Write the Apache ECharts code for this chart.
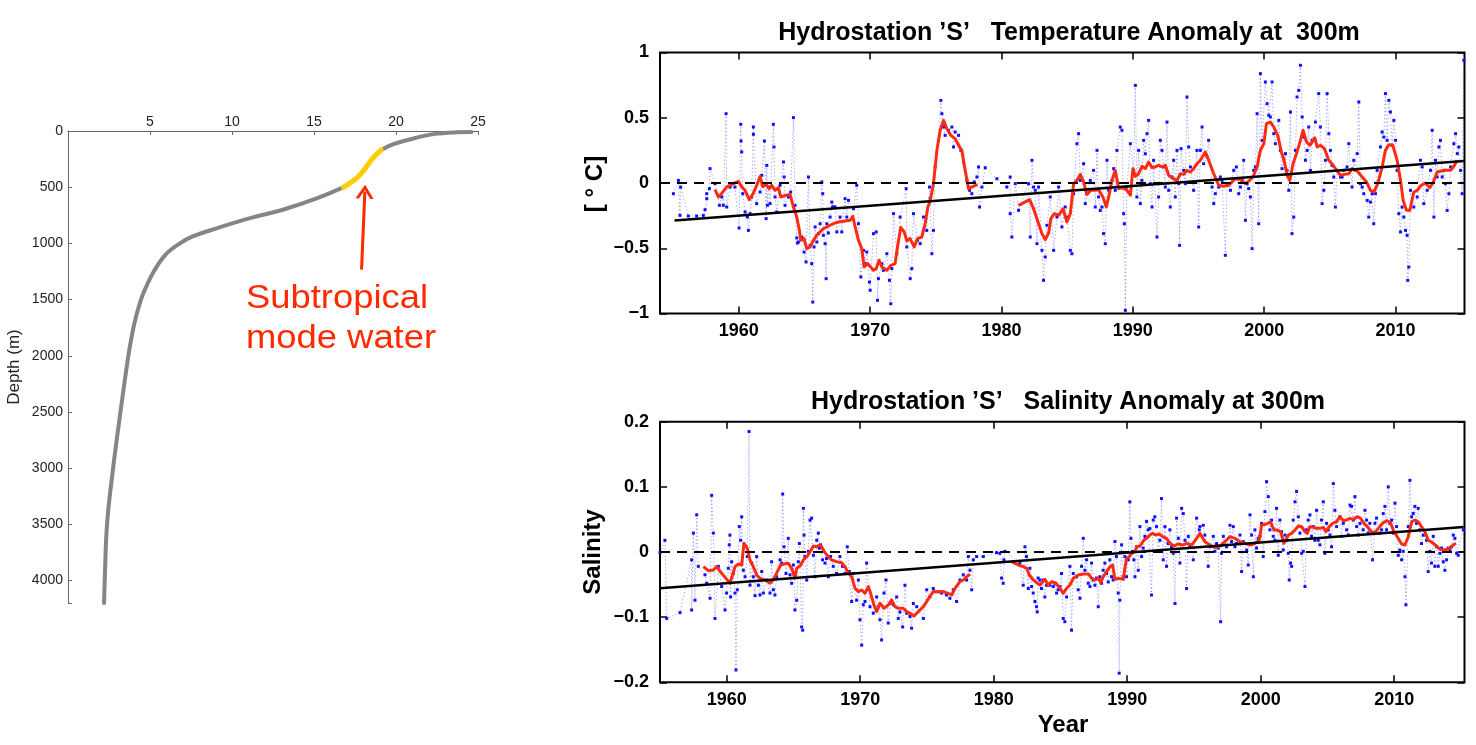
<!DOCTYPE html>
<html>
<head>
<meta charset="utf-8">
<script src="https://cdn.jsdelivr.net/npm/echarts@6/dist/echarts.min.js"></script>
<style>html,body{margin:0;padding:0;background:#fff}#c{width:1476px;height:745px}</style>
</head>
<body>
<div id="c"></div>
<script>
// ---------------- data ----------------
// Temperature profile (temperature degC, depth m)
const profileUpper = [[24.6,10],[23.7,12],[22.3,28],[20.7,80],[19.8,120],[19.1,169]];
const modeWater = [[19.1,169],[18.6,240],[18.2,317],[17.7,405],[16.8,500]];
const profileLower = [[16.8,500],[15.2,598],[13.1,701],[11.1,775],[9.1,864],[7.6,938],[6.82,1000],[5.95,1100],[5.23,1250],[4.72,1400],[4.45,1500],[4.15,1650],[3.92,1800],[3.68,2000],[3.2,2500],[2.75,3000],[2.38,3500],[2.24,4000],[2.2,4200]];
const arrowFrom = [17.9, 1234];
const arrowTo = [18.1, 540];
const profileXTicks = [5,10,15,20,25];

// Time-series ticks
const yearTicks = [1960,1970,1980,1990,2000,2010];

// Temperature anomaly at 300 m (year, degC)
const tempObs = [
[1955.02,-0.082],[1955.40,0.020],[1955.52,-0.248],[1955.57,-0.031],[1956.16,-0.253],[1956.79,-0.253],[1957.30,-0.248],[1957.43,-0.204],[1957.56,-0.120],[1957.56,-0.082],[1957.76,-0.043],[1957.81,0.110],[1958.19,-0.005],[1958.52,-0.171],[1958.70,-0.107],[1958.82,-0.171],[1959.03,0.531],[1959.08,-0.184],[1959.33,-0.031],[1959.71,-0.031],[1960.02,-0.345],[1960.15,0.450],[1960.17,0.322],[1960.22,0.238],[1960.30,-0.082],[1960.48,-0.222],[1960.65,-0.261],[1960.73,-0.363],[1960.86,-0.235],[1960.98,-0.107],[1961.11,0.429],[1961.11,0.373],[1961.36,-0.158],[1961.62,-0.069],[1961.75,0.059],[1961.95,0.322],[1962.08,-0.273],[1962.13,0.135],[1962.18,-0.171],[1962.25,-0.031],[1962.38,-0.158],[1962.63,0.450],[1962.68,0.276],[1962.76,-0.107],[1962.89,-0.222],[1963.14,-0.018],[1963.40,0.161],[1963.45,0.046],[1963.52,-0.171],[1963.78,-0.107],[1963.95,-0.069],[1964.16,0.501],[1964.28,-0.171],[1964.41,-0.421],[1964.46,-0.460],[1964.54,-0.452],[1964.79,-0.414],[1964.97,-0.529],[1965.12,-0.605],[1965.30,0.046],[1965.43,-0.478],[1965.55,-0.618],[1965.63,-0.912],[1965.73,-0.490],[1965.81,-0.337],[1965.94,-0.452],[1966.06,-0.388],[1966.19,-0.312],[1966.32,0.008],[1966.39,-0.082],[1966.44,-0.401],[1966.57,-0.465],[1966.65,-0.733],[1966.70,-0.312],[1966.82,-0.383],[1966.95,-0.261],[1967.08,-0.146],[1967.15,-0.184],[1967.20,-0.184],[1967.33,-0.184],[1967.46,-0.375],[1967.71,-0.261],[1967.84,-0.375],[1968.09,-0.120],[1968.22,-0.261],[1968.35,-0.133],[1968.73,-0.197],[1968.98,-0.018],[1969.11,-0.312],[1969.29,-0.720],[1969.49,-0.516],[1969.62,-0.618],[1969.74,-0.529],[1969.95,-0.759],[1970.00,-0.822],[1970.25,-0.388],[1970.46,-0.375],[1970.56,-0.899],[1970.63,-0.733],[1970.89,-0.618],[1971.01,-0.669],[1971.27,-0.542],[1971.47,-0.746],[1971.57,-0.925],[1971.65,-0.656],[1971.78,-0.235],[1972.03,-0.542],[1972.28,-0.261],[1972.74,-0.043],[1972.79,-0.490],[1973.05,-0.733],[1973.17,-0.656],[1973.30,-0.235],[1973.60,-0.440],[1973.81,-0.465],[1974.06,-0.261],[1974.31,-0.363],[1974.52,-0.031],
[1974.57,-0.120],[1974.70,-0.542],[1974.82,-0.363],[1974.95,0.123],[1975.20,0.327],[1975.38,0.633],[1975.46,0.531],[1975.59,0.429],[1975.71,0.365],[1975.97,0.404],[1976.22,0.429],[1976.35,0.276],[1976.47,0.391],[1976.73,0.365],[1976.91,0.250],[1977.11,0.161],[1977.36,0.020],[1977.57,-0.056],[1977.74,-0.082],[1977.92,0.008],[1978.13,0.046],[1978.25,0.123],[1978.33,-0.184],[1978.51,-0.031],[1978.76,0.117],[1979.65,0.033],[1980.41,-0.031],[1980.66,0.046],[1980.66,-0.235],[1980.79,-0.414],[1981.05,-0.005],[1981.30,-0.210],[1982.06,-0.005],[1982.19,-0.414],[1982.32,0.174],[1982.44,-0.031],[1982.57,-0.056],[1982.70,-0.465],[1982.82,-0.031],[1983.08,-0.516],[1983.20,-0.746],[1983.33,-0.567],[1983.46,-0.324],[1983.71,-0.107],[1983.97,-0.516],[1984.22,-0.261],[1984.35,-0.031],[1984.60,-0.337],[1984.85,-0.184],[1984.98,-0.261],[1985.24,-0.516],[1985.36,-0.542],[1985.49,-0.082],[1985.74,0.301],[1985.87,0.378],[1986.00,0.020],[1986.25,0.148],[1986.38,-0.158],[1986.51,-0.082],[1986.76,0.020],[1987.01,0.097],[1987.14,-0.184],[1987.27,0.250],[1987.39,-0.107],[1987.52,-0.210],[1987.65,-0.184],[1987.77,-0.388],[1987.90,-0.465],[1988.03,0.174],[1988.16,-0.056],[1988.41,0.020],[1988.54,0.110],[1988.66,-0.056],[1988.79,0.250],[1989.04,0.429],[1989.17,0.404],[1989.30,-0.235],[1989.35,-0.312],[1989.43,-0.976],[1989.55,-0.031],[1989.81,0.301],[1990.06,0.097],[1990.19,0.748],[1990.31,-0.107],[1990.44,0.250],[1990.57,-0.158],[1990.69,0.020],[1990.82,0.327],[1990.95,0.224],[1991.08,0.378],[1991.20,0.480],[1991.33,-0.005],[1991.46,-0.184],[1991.58,0.174],[1991.84,-0.414],[1991.96,-0.107],[1992.09,0.327],[1992.22,0.250],[1992.35,0.123],[1992.47,-0.031],[1992.60,0.467],[1992.73,-0.056],[1992.85,-0.184],[1992.98,0.046],[1993.11,0.174],[1993.23,-0.107],[1993.36,0.250],[1993.49,-0.005],[1993.56,-0.478],[1993.67,0.263],[1993.87,0.097],[1994.00,-0.005],[1994.12,0.659],[1994.25,0.276],[1994.38,0.123],[1994.63,-0.056],[1994.88,0.250],[1995.01,-0.337],
[1995.14,0.250],[1995.27,0.429],[1995.39,0.148],[1995.65,0.199],[1995.77,0.327],[1996.03,-0.031],[1996.16,-0.158],[1996.28,-0.082],[1996.54,-0.031],[1996.66,0.046],[1996.79,0.020],[1997.04,-0.554],[1997.17,-0.005],[1997.43,-0.056],[1997.68,0.097],[1997.88,0.123],[1998.06,-0.082],[1998.19,-0.031],[1998.31,0.020],[1998.44,0.174],[1998.57,-0.286],[1998.70,-0.005],[1998.82,-0.043],[1998.95,-0.107],[1999.08,-0.503],[1999.20,0.097],[1999.33,0.123],[1999.46,0.531],[1999.58,-0.312],[1999.71,0.838],[1999.84,0.327],[2000.09,0.774],[2000.22,0.608],[2000.35,0.519],[2000.47,0.506],[2000.60,0.774],[2000.73,0.378],[2000.85,0.301],[2001.11,0.480],[2001.23,0.250],[2001.36,0.110],[2001.49,0.186],[2001.62,0.225],[2001.74,0.097],[2001.87,-0.056],[2002.00,0.544],[2002.12,-0.388],[2002.25,-0.261],[2002.38,0.250],[2002.50,0.659],[2002.63,0.710],[2002.76,0.902],[2002.89,0.506],[2003.01,0.352],[2003.14,0.174],[2003.27,0.250],[2003.39,0.429],[2003.52,0.097],[2003.65,0.327],[2003.90,0.467],[2004.15,0.685],[2004.28,0.429],[2004.41,-0.158],[2004.54,-0.056],[2004.66,0.174],[2004.79,0.685],[2004.92,0.378],[2005.04,0.250],[2005.17,0.135],[2005.30,0.046],[2005.42,-0.184],[2005.55,0.097],[2005.81,0.046],[2005.93,0.046],[2006.06,0.097],[2006.31,0.123],[2006.44,0.301],[2006.69,-0.031],[2006.82,0.174],[2006.95,0.097],[2007.08,0.225],[2007.20,0.621],[2007.33,-0.005],[2007.46,-0.031],[2007.58,-0.082],[2007.84,-0.133],[2007.96,-0.261],[2008.09,-0.146],[2008.22,-0.082],[2008.34,-0.312],[2008.47,-0.082],[2008.60,0.097],[2008.85,0.276],[2008.98,0.391],[2009.11,0.352],[2009.23,0.685],[2009.36,0.327],[2009.49,0.633],[2009.61,0.544],[2009.74,0.289],[2009.87,0.480],[2010.00,0.327],[2010.12,0.097],[2010.25,-0.235],[2010.38,-0.375],[2010.50,-0.184],[2010.63,-0.261],[2010.76,-0.363],[2010.88,-0.401],[2010.93,-0.746],[2011.01,-0.644],[2011.14,-0.056],[2011.39,-0.184],[2011.65,-0.107],[2011.90,0.174],[2012.03,0.123],[2012.15,-0.158],[2012.41,-0.056],[2012.66,0.097],[2012.79,0.404],[2012.92,-0.261],[2013.04,0.174],[2013.17,0.046],[2013.30,0.276],[2013.42,0.327],[2013.55,0.046],[2013.68,0.097],[2013.80,-0.005],[2013.93,-0.210],[2014.06,-0.082],[2014.19,0.123],[2014.44,0.301],[2014.57,0.378],[2014.70,0.225],[2014.82,0.276],[2014.95,0.097],[2015.07,-0.082],[2015.20,0.940]
];
const tempSmoothA = [[1958.19,-0.051],[1958.44,-0.107],[1958.70,-0.080],[1959.08,-0.030],[1959.97,0.013],[1960.22,-0.030],[1960.47,-0.056],[1960.80,-0.128],[1961.10,-0.080],[1961.36,-0.018],[1961.62,0.050],[1961.82,-0.030],[1962.08,-0.010],[1962.33,-0.043],[1962.50,-0.018],[1962.76,-0.056],[1963.01,-0.036],[1963.19,-0.107],[1963.60,-0.094],[1963.90,-0.087],[1964.16,-0.184],[1964.41,-0.260],[1964.61,-0.362],[1964.72,-0.439],[1964.97,-0.426],[1965.17,-0.503],[1965.43,-0.490],[1965.68,-0.439],[1965.94,-0.400],[1966.19,-0.375],[1966.44,-0.350],[1966.70,-0.337],[1966.95,-0.324],[1967.20,-0.311],[1967.59,-0.299],[1968.09,-0.291],[1968.47,-0.286],[1968.68,-0.255],[1968.86,-0.337],[1969.11,-0.439],[1969.36,-0.503],[1969.54,-0.643],[1969.80,-0.618],[1970.00,-0.639],[1970.25,-0.669],[1970.46,-0.656],[1970.68,-0.592],[1970.89,-0.643],[1971.27,-0.669],[1971.57,-0.631],[1971.90,-0.618],[1972.08,-0.490],[1972.33,-0.341],[1972.59,-0.375],[1972.79,-0.444],[1973.04,-0.426],[1973.35,-0.490],[1973.60,-0.426],[1973.93,-0.414],[1974.19,-0.311],[1974.39,-0.184],[1974.57,-0.140],[1974.82,-0.005],[1975.08,0.250],[1975.33,0.404],[1975.59,0.480],[1975.84,0.416],[1976.14,0.365],[1976.47,0.340],[1976.80,0.276],[1976.98,0.250],[1977.19,0.122],[1977.49,-0.043],[1977.74,-0.030],[1978.18,-0.013]];
const tempSmoothB = [[1981.30,-0.171],[1981.81,-0.145],[1982.14,-0.128],[1982.44,-0.197],[1982.82,-0.311],[1983.08,-0.388],[1983.33,-0.434],[1983.59,-0.383],[1983.76,-0.273],[1984.02,-0.235],[1984.35,-0.248],[1984.68,-0.197],[1984.98,-0.299],[1985.24,-0.235],[1985.49,-0.005],[1985.74,0.020],[1986.00,0.066],[1986.25,0.008],[1986.50,-0.087],[1986.81,-0.056],[1987.14,-0.056],[1987.39,-0.051],[1987.72,-0.107],[1987.98,-0.184],[1988.16,-0.107],[1988.41,0.020],[1988.66,0.097],[1988.92,-0.043],[1989.25,-0.036],[1989.55,-0.056],[1989.81,-0.094],[1990.01,0.110],[1990.19,0.051],[1990.44,0.071],[1990.70,0.128],[1990.95,0.110],[1991.20,0.161],[1991.46,0.118],[1991.71,0.123],[1991.96,0.136],[1992.22,0.123],[1992.47,0.136],[1992.73,0.059],[1993.06,0.033],[1993.36,0.020],[1993.62,0.071],[1993.87,0.066],[1994.12,0.097],[1994.38,0.084],[1994.63,0.110],[1994.89,0.148],[1995.14,0.174],[1995.52,0.238],[1995.77,0.174],[1996.16,0.071],[1996.54,-0.018],[1996.92,-0.025],[1997.30,-0.018],[1997.55,0.008],[1997.81,0.033],[1998.19,0.026],[1998.57,-0.005],[1998.90,0.020],[1999.20,0.059],[1999.46,0.123],[1999.71,0.250],[1999.97,0.301],[2000.17,0.455],[2000.47,0.467],[2000.73,0.429],[2001.03,0.365],[2001.28,0.250],[2001.54,0.161],[2001.74,0.059],[2001.95,0.020],[2002.20,0.148],[2002.50,0.238],[2002.76,0.327],[2002.96,0.404],[2003.22,0.314],[2003.47,0.289],[2003.65,0.314],[2003.85,0.347],[2004.03,0.276],[2004.28,0.289],[2004.59,0.263],[2004.92,0.174],[2005.25,0.136],[2005.55,0.092],[2005.81,0.059],[2006.11,0.066],[2006.44,0.071],[2006.70,0.110],[2007.08,0.092],[2007.46,0.046],[2007.79,0.008],[2008.09,-0.056],[2008.35,-0.069],[2008.65,-0.005],[2008.98,0.123],[2009.23,0.250],[2009.49,0.294],[2009.79,0.289],[2010.12,0.174],[2010.38,0.020],[2010.58,-0.133],[2010.83,-0.209],[2011.09,-0.209],[2011.39,-0.069],[2011.65,-0.056],[2011.95,-0.018],[2012.28,0.000],[2012.61,-0.036],[2012.87,0.008],[2013.17,0.084],[2013.48,0.092],[2013.80,0.097],[2014.19,0.097],[2014.44,0.128],[2014.69,0.174]];
const tempTrend = [[1955.1,-0.288],[2015.2,0.169]];

// Salinity anomaly at 300 m (year, psu)
const salObs = [
[1955.00,-0.001],[1955.37,0.018],[1955.50,-0.102],[1956.50,-0.093],[1957.37,-0.012],[1957.37,-0.089],[1957.50,0.029],[1957.62,-0.074],[1957.75,0.057],[1957.87,-0.022],[1958.37,-0.035],[1958.50,-0.048],[1958.75,-0.071],[1958.87,0.087],[1959.00,0.029],[1959.12,-0.102],[1959.37,-0.022],[1959.62,-0.053],[1959.87,-0.089],[1959.99,-0.063],[1960.12,-0.025],[1960.19,0.011],[1960.24,0.026],[1960.29,-0.069],[1960.37,-0.015],[1960.49,-0.033],[1960.62,-0.063],[1960.69,-0.181],[1960.79,-0.058],[1960.94,0.039],[1961.04,0.018],[1961.12,0.054],[1961.24,-0.028],[1961.37,-0.038],[1961.54,-0.007],[1961.67,0.185],[1961.74,-0.051],[1961.87,-0.017],[1961.99,-0.038],[1962.12,-0.067],[1962.24,-0.007],[1962.37,-0.051],[1962.49,-0.066],[1962.62,-0.030],[1962.74,-0.063],[1962.99,-0.043],[1963.24,-0.063],[1963.36,-0.015],[1963.49,-0.058],[1963.61,-0.066],[1963.74,-0.038],[1963.99,-0.012],[1964.11,-0.017],[1964.19,0.089],[1964.29,0.008],[1964.44,-0.033],[1964.61,0.021],[1964.74,-0.035],[1964.86,-0.048],[1964.99,-0.020],[1965.11,-0.089],[1965.24,-0.074],[1965.36,-0.015],[1965.44,0.013],[1965.61,-0.115],[1965.69,-0.120],[1965.74,0.067],[1965.79,0.026],[1965.86,-0.007],[1965.99,-0.043],[1966.11,0.001],[1966.24,0.049],[1966.36,0.052],[1966.49,-0.005],[1966.61,-0.038],[1966.74,0.018],[1966.86,0.029],[1966.94,0.006],[1967.03,0.011],[1967.18,-0.012],[1967.36,-0.017],[1967.48,-0.010],[1967.61,-0.038],[1967.78,-0.007],[1967.98,-0.022],[1968.23,-0.033],[1968.48,-0.007],[1968.68,-0.022],[1968.86,-0.033],[1969.03,0.008],[1969.18,-0.030],[1969.36,-0.076],[1969.48,-0.033],[1969.73,-0.074],[1969.86,-0.043],[1969.98,-0.104],[1970.11,-0.143],[1970.23,-0.081],[1970.36,-0.076],[1970.48,-0.017],[1970.73,-0.084],[1970.98,-0.094],[1971.23,-0.069],[1971.35,-0.084],[1971.48,-0.104],[1971.60,-0.135],[1971.78,-0.063],[1971.93,-0.043],[1972.10,-0.109],[1972.23,-0.079],[1972.48,-0.081],[1972.73,-0.069],[1972.85,-0.102],[1972.98,-0.092],[1973.18,-0.115],[1973.35,-0.051],[1973.48,-0.094],[1973.73,-0.099],[1973.85,-0.117],[1973.98,-0.079],[1974.23,-0.084],[1974.73,-0.102],[1974.98,-0.058],[1975.22,-0.069],
[1975.47,-0.056],[1975.85,-0.061],[1976.10,-0.063],[1976.47,-0.066],[1976.72,-0.071],[1976.97,-0.058],[1977.22,-0.076],[1977.47,-0.043],[1977.72,-0.035],[1977.97,-0.043],[1978.10,-0.007],[1978.22,-0.028],[1978.35,-0.058],[1978.47,-0.012],[1978.72,-0.007],[1979.22,-0.007],[1980.21,-0.001],[1980.46,-0.002],[1980.59,-0.040],[1980.71,-0.048],[1980.76,-0.012],[1980.84,0.001],[1981.96,-0.017],[1982.21,-0.051],[1982.34,0.008],[1982.46,-0.007],[1982.59,-0.056],[1982.71,-0.025],[1982.84,-0.053],[1982.96,-0.063],[1983.09,-0.076],[1983.21,-0.084],[1983.26,-0.092],[1983.33,-0.040],[1983.46,-0.043],[1983.58,-0.056],[1983.71,-0.043],[1983.83,-0.069],[1983.96,-0.051],[1984.21,-0.051],[1984.46,-0.053],[1984.58,-0.048],[1984.71,-0.063],[1984.83,-0.058],[1984.96,-0.053],[1985.08,-0.033],[1985.21,-0.102],[1985.33,-0.107],[1985.46,-0.069],[1985.71,-0.022],[1985.83,-0.120],[1985.96,-0.033],[1986.21,-0.038],[1986.33,-0.058],[1986.46,-0.071],[1986.58,-0.022],[1986.71,0.021],[1986.83,-0.028],[1986.96,-0.012],[1987.08,-0.048],[1987.21,-0.053],[1987.33,-0.017],[1987.45,-0.043],[1987.58,-0.051],[1987.70,-0.040],[1987.83,-0.084],[1987.95,-0.038],[1988.08,-0.048],[1988.20,-0.028],[1988.33,-0.017],[1988.45,-0.033],[1988.58,-0.046],[1988.70,-0.012],[1988.83,-0.038],[1988.95,-0.043],[1989.08,0.016],[1989.20,-0.007],[1989.33,-0.063],[1989.40,-0.186],[1989.45,-0.074],[1989.58,0.011],[1989.70,-0.038],[1989.83,-0.007],[1989.95,-0.038],[1990.08,-0.012],[1990.20,0.077],[1990.28,0.021],[1990.40,0.001],[1990.50,-0.012],[1990.58,-0.038],[1990.70,0.008],[1990.83,-0.028],[1990.95,0.039],[1991.08,-0.007],[1991.20,0.006],[1991.33,0.024],[1991.45,0.047],[1991.57,0.034],[1991.70,0.036],[1991.82,-0.066],[1991.95,0.049],[1992.07,0.054],[1992.20,0.039],[1992.33,0.001],[1992.45,0.018],[1992.57,0.082],[1992.70,-0.012],[1992.83,0.039],[1992.95,-0.022],[1993.07,0.013],[1993.20,0.034],[1993.33,0.008],[1993.45,-0.002],[1993.58,-0.079],[1993.70,0.052],[1993.83,0.021],[1993.95,-0.017],[1994.08,0.067],[1994.20,0.059],[1994.33,0.018],[1994.45,-0.056],[1994.58,0.024],[1994.70,0.008],[1994.95,-0.012],[1995.20,0.052],[1995.40,0.034],
[1995.45,0.039],[1995.70,0.041],[1995.82,0.026],[1996.07,-0.022],[1996.20,0.008],[1996.45,0.024],[1996.57,0.001],[1996.70,0.013],[1996.82,0.006],[1997.00,-0.107],[1997.07,-0.002],[1997.20,0.024],[1997.45,0.008],[1997.70,0.041],[1997.82,0.016],[1997.95,0.039],[1998.07,0.008],[1998.20,0.013],[1998.45,0.026],[1998.57,-0.030],[1998.70,0.016],[1998.95,0.003],[1999.07,-0.020],[1999.20,0.057],[1999.32,0.026],[1999.45,-0.038],[1999.57,0.034],[1999.69,0.006],[1999.82,0.021],[1999.94,0.024],[2000.07,0.044],[2000.19,-0.007],[2000.32,0.062],[2000.44,0.108],[2000.57,0.085],[2000.69,0.034],[2000.82,0.049],[2000.94,0.024],[2001.07,0.018],[2001.19,0.067],[2001.32,-0.005],[2001.44,0.049],[2001.57,0.031],[2001.69,0.003],[2001.82,0.026],[2001.94,0.018],[2002.07,-0.002],[2002.14,-0.043],[2002.24,-0.017],[2002.32,-0.022],[2002.44,0.049],[2002.57,0.077],[2002.69,0.093],[2002.82,0.054],[2002.94,0.029],[2003.07,-0.002],[2003.19,0.001],[2003.32,-0.053],[2003.44,0.034],[2003.56,0.049],[2003.69,0.057],[2003.81,0.024],[2003.94,0.039],[2004.06,0.018],[2004.19,0.064],[2004.31,0.018],[2004.44,0.011],[2004.56,0.049],[2004.69,0.077],[2004.81,-0.002],[2004.94,0.044],[2005.06,0.034],[2005.19,0.026],[2005.31,0.008],[2005.44,0.105],[2005.56,0.064],[2005.69,0.039],[2005.94,0.054],[2006.06,0.024],[2006.19,0.044],[2006.44,0.034],[2006.56,0.026],[2006.69,0.072],[2006.81,0.070],[2006.94,0.049],[2007.06,0.085],[2007.19,0.039],[2007.31,0.026],[2007.44,0.044],[2007.68,0.034],[2007.81,0.064],[2007.93,0.049],[2008.06,0.029],[2008.18,0.044],[2008.38,-0.012],[2008.56,0.044],[2008.68,0.052],[2008.93,0.029],[2009.06,0.034],[2009.18,0.059],[2009.31,0.070],[2009.43,0.034],[2009.56,0.100],[2009.68,0.044],[2009.81,0.049],[2009.93,0.029],[2010.06,0.075],[2010.18,0.039],[2010.31,-0.005],[2010.43,0.003],[2010.56,-0.012],[2010.68,0.001],[2010.81,-0.038],[2010.88,-0.081],[2011.06,0.039],[2011.18,0.110],[2011.31,0.054],[2011.43,0.059],[2011.55,0.070],[2011.68,0.044],[2011.80,0.067],[2011.93,0.034],[2012.05,0.013],[2012.18,0.026],[2012.43,0.018],[2012.55,-0.030],[2012.68,0.001],[2012.80,-0.017],[2012.93,0.024],[2013.05,-0.022],[2013.18,0.008],[2013.30,-0.022],[2013.43,-0.002],[2013.55,0.006],[2013.68,-0.015],[2013.80,-0.028],[2013.93,-0.012],[2014.05,0.006],[2014.18,0.003],[2014.30,0.008],[2014.43,0.026],[2014.55,0.021],[2014.68,-0.002],[2014.80,-0.005],[2015.18,0.034]
];
const salSmoothA = [[1958.25,-0.0225],[1958.62,-0.0286],[1959.00,-0.0276],[1959.24,-0.0225],[1959.62,-0.0327],[1960.00,-0.042],[1960.24,-0.048],[1960.44,-0.0353],[1960.62,-0.0225],[1960.87,-0.0184],[1961.12,-0.020],[1961.29,0.0133],[1961.54,0.0056],[1961.74,-0.0123],[1961.99,-0.0225],[1962.24,-0.0353],[1962.49,-0.0404],[1962.87,-0.0429],[1963.24,-0.048],[1963.49,-0.0429],[1963.79,-0.0302],[1964.04,-0.020],[1964.29,-0.0184],[1964.61,-0.0174],[1964.86,-0.025],[1965.11,-0.0404],[1965.24,-0.025],[1965.49,-0.0215],[1965.74,-0.0123],[1966.04,-0.0061],[1966.24,0.0005],[1966.49,0.0092],[1966.74,0.0082],[1966.94,0.0107],[1967.11,0.0082],[1967.36,-0.001],[1967.61,-0.0072],[1967.86,-0.0123],[1968.23,-0.0148],[1968.61,-0.0164],[1968.86,-0.0225],[1969.11,-0.0327],[1969.36,-0.0378],[1969.61,-0.0557],[1969.86,-0.0608],[1970.11,-0.0583],[1970.36,-0.0634],[1970.61,-0.0532],[1970.78,-0.0634],[1971.03,-0.0813],[1971.23,-0.0915],[1971.48,-0.0787],[1971.78,-0.0864],[1972.10,-0.0813],[1972.35,-0.0736],[1972.60,-0.0838],[1972.85,-0.0864],[1973.23,-0.0864],[1973.48,-0.0915],[1973.73,-0.0941],[1974.03,-0.0982],[1974.35,-0.0915],[1974.73,-0.0838],[1974.98,-0.0762],[1975.22,-0.068],[1975.47,-0.0608],[1975.80,-0.061],[1976.22,-0.0608],[1976.60,-0.0634],[1976.85,-0.066],[1977.10,-0.056],[1977.47,-0.0455],[1977.72,-0.043],[1977.97,-0.038],[1978.22,-0.034]];
const salSmoothB = [[1981.34,-0.0148],[1981.84,-0.020],[1982.22,-0.0225],[1982.47,-0.025],[1982.67,-0.0353],[1982.97,-0.0429],[1983.27,-0.048],[1983.47,-0.0506],[1983.84,-0.042],[1984.09,-0.0506],[1984.34,-0.0455],[1984.66,-0.048],[1984.96,-0.0557],[1985.21,-0.0634],[1985.46,-0.0557],[1985.71,-0.0506],[1985.96,-0.0404],[1986.34,-0.0353],[1986.71,-0.0337],[1987.09,-0.0337],[1987.34,-0.0404],[1987.58,-0.0429],[1987.83,-0.0404],[1988.01,-0.047],[1988.21,-0.0378],[1988.46,-0.0302],[1988.71,-0.0225],[1988.91,-0.020],[1989.08,-0.042],[1989.33,-0.0404],[1989.71,-0.042],[1989.83,-0.025],[1989.96,-0.0097],[1990.16,-0.0072],[1990.33,-0.002],[1990.58,0.0005],[1990.71,0.0082],[1990.96,0.0092],[1991.26,0.0184],[1991.45,0.021],[1991.70,0.026],[1991.90,0.0286],[1992.15,0.026],[1992.40,0.0276],[1992.65,0.0235],[1992.95,0.021],[1993.20,0.0133],[1993.50,0.0092],[1993.83,0.0123],[1994.15,0.0107],[1994.45,0.0133],[1994.83,0.0107],[1995.20,0.021],[1995.45,0.0286],[1995.82,0.0158],[1996.20,0.0107],[1996.57,0.0066],[1996.95,0.0092],[1997.32,0.0158],[1997.70,0.0235],[1998.07,0.021],[1998.45,0.0158],[1998.82,0.0133],[1999.20,0.0107],[1999.57,0.0133],[1999.90,0.0184],[2000.07,0.0414],[2000.44,0.0429],[2000.74,0.0465],[2000.99,0.0337],[2001.24,0.0337],[2001.49,0.0312],[2001.74,0.0133],[2001.89,0.0184],[2002.07,0.026],[2002.32,0.0286],[2002.57,0.0337],[2002.82,0.0399],[2003.07,0.0389],[2003.31,0.0312],[2003.49,0.0286],[2003.69,0.0389],[2003.94,0.0378],[2004.19,0.0363],[2004.44,0.0363],[2004.69,0.0378],[2004.89,0.0312],[2005.14,0.0389],[2005.39,0.044],[2005.69,0.0465],[2005.94,0.0542],[2006.19,0.0481],[2006.44,0.0491],[2006.69,0.0516],[2006.94,0.0501],[2007.24,0.0542],[2007.49,0.0516],[2007.74,0.044],[2007.99,0.0389],[2008.31,0.0312],[2008.56,0.0297],[2008.81,0.0363],[2009.13,0.044],[2009.43,0.0481],[2009.73,0.045],[2009.93,0.0337],[2010.23,0.0235],[2010.56,0.0123],[2010.81,0.0107],[2011.06,0.0235],[2011.31,0.0465],[2011.56,0.0491],[2011.80,0.0465],[2012.05,0.0389],[2012.30,0.0312],[2012.55,0.0184],[2012.93,0.0133],[2013.18,0.0092],[2013.43,0.0041],[2013.80,0.0031],[2014.13,0.0056],[2014.43,0.0107],[2014.63,0.0133]];
const salTrend = [[1955.0,-0.0557],[2015.2,0.0383]];

// ---------------- chart ----------------
const FONT = 'Liberation Sans, Arial, Helvetica, sans-serif';
const BLUE = '#1010ff';
const RED = '#ff2a12';

function fmtTick(v) {
  if (Math.abs(v) < 1e-9) return '0';
  const a = +Math.abs(v).toFixed(2);
  return (v < 0 ? '\u2212' : '') + a;
}

function timeX(grid, min, max, pos, showLabels) {
  return {
    type: 'value', gridIndex: grid, min: min, max: max, position: pos,
    axisLine: { show: false, onZero: false },
    axisTick: { show: true, inside: true, length: 7, lineStyle: { color: '#000', width: 1.5 }, customValues: yearTicks },
    axisLabel: { show: showLabels, customValues: yearTicks, formatter: function (v) { return String(v); },
      fontFamily: FONT, fontWeight: 'bold', fontSize: 18, color: '#000', margin: 9 },
    splitLine: { show: false }
  };
}
function valY(grid, min, max, interval, pos, showLabels) {
  return {
    type: 'value', gridIndex: grid, min: min, max: max, interval: interval, position: pos,
    axisLine: { show: false, onZero: false },
    axisTick: { show: true, inside: true, length: 7, lineStyle: { color: '#000', width: 1.5 } },
    axisLabel: { show: showLabels, formatter: fmtTick, fontFamily: FONT, fontWeight: 'bold', fontSize: 18, color: '#000', margin: 11 },
    splitLine: { show: false }
  };
}
function obsSeries(xi, yi, data) {
  return {
    type: 'line', xAxisIndex: xi, yAxisIndex: yi, data: data, z: 2,
    symbol: 'rect', symbolSize: 3, showSymbol: true, showAllSymbol: true,
    itemStyle: { color: BLUE },
    lineStyle: { color: 'rgba(40,40,255,0.45)', width: 1, type: [1.2, 2.4] },
    emphasis: { disabled: true }
  };
}
function smoothSeries(xi, yi, data) {
  return {
    type: 'line', xAxisIndex: xi, yAxisIndex: yi, data: data, z: 4,
    showSymbol: false, lineStyle: { color: RED, width: 3, join: 'round' },
    emphasis: { disabled: true }
  };
}
function trendSeries(xi, yi, data) {
  return {
    type: 'line', xAxisIndex: xi, yAxisIndex: yi, data: data, z: 5,
    showSymbol: false, lineStyle: { color: '#000', width: 2.5 },
    emphasis: { disabled: true },
    markLine: {
      silent: true, symbol: ['none', 'none'], label: { show: false },
      lineStyle: { color: '#000', width: 2, type: [10, 7] },
      data: [{ yAxis: 0 }]
    }
  };
}

const chart = echarts.init(document.getElementById('c'), null, { renderer: 'canvas' });
chart.setOption({
  animation: false,
  backgroundColor: '#fff',
  title: [
    { text: 'Hydrostation \u2019S\u2019   Temperature Anomaly at  300m', left: 1064, top: 28, textAlign: 'center', textVerticalAlign: 'middle',
      textStyle: { fontFamily: FONT, fontWeight: 'bold', fontSize: 25, color: '#000' } },
    { text: 'Hydrostation \u2019S\u2019   Salinity Anomaly at 300m', left: 1063, top: 397, textAlign: 'center', textVerticalAlign: 'middle',
      textStyle: { fontFamily: FONT, fontWeight: 'bold', fontSize: 25, color: '#000' } }
  ],
  grid: [
    { left: 68, top: 131, width: 410, height: 472 },
    { left: 660, top: 52.5, width: 804.5, height: 261, show: true, borderColor: '#000', borderWidth: 2, backgroundColor: 'transparent' },
    { left: 660, top: 421.7, width: 804.5, height: 260.6, show: true, borderColor: '#000', borderWidth: 2, backgroundColor: 'transparent' }
  ],
  xAxis: [
    { type: 'value', gridIndex: 0, min: 0, max: 25, interval: 5, position: 'top',
      axisLine: { show: true, onZero: false, lineStyle: { color: '#666', width: 1 } },
      axisTick: { show: true, inside: true, length: 4, lineStyle: { color: '#666' } },
      axisLabel: { customValues: profileXTicks, fontFamily: FONT, fontSize: 14, color: '#222', margin: 2 },
      splitLine: { show: false } },
    timeX(1, 1954, 2015.25, 'bottom', true),
    timeX(1, 1954, 2015.25, 'top', false),
    timeX(2, 1955, 2015.27, 'bottom', true),
    timeX(2, 1955, 2015.27, 'top', false)
  ],
  yAxis: [
    { type: 'value', gridIndex: 0, min: 0, max: 4200, interval: 500, inverse: true,
      axisLine: { show: true, onZero: false, lineStyle: { color: '#666', width: 1 } },
      axisTick: { show: true, inside: true, length: 4, lineStyle: { color: '#666' } },
      axisLabel: { formatter: function (v) { return v > 4000 ? '' : String(v); }, fontFamily: FONT, fontSize: 14, color: '#222', margin: 5 },
      splitLine: { show: false } },
    valY(1, -1, 1, 0.5, 'left', true),
    valY(1, -1, 1, 0.5, 'right', false),
    valY(2, -0.2, 0.2, 0.1, 'left', true),
    valY(2, -0.2, 0.2, 0.1, 'right', false)
  ],
  series: [
    { type: 'line', xAxisIndex: 0, yAxisIndex: 0, data: profileUpper, smooth: 0.4, showSymbol: false,
      lineStyle: { color: '#858585', width: 4, cap: 'round' }, z: 2, emphasis: { disabled: true } },
    { type: 'line', xAxisIndex: 0, yAxisIndex: 0, data: profileLower, smooth: 0.4, showSymbol: false,
      lineStyle: { color: '#858585', width: 4, cap: 'round' }, z: 2, emphasis: { disabled: true },
      markLine: {
        silent: true, label: { show: false },
        symbol: ['none', 'path://M0,12 L7,0 L14,12 L11.4,12 L7,4.6 L2.6,12 Z'], symbolSize: [18, 14],
        lineStyle: { color: '#ff2a00', width: 3, type: 'solid' },
        data: [[{ coord: arrowFrom }, { coord: arrowTo }]]
      } },
    { type: 'line', xAxisIndex: 0, yAxisIndex: 0, data: modeWater, smooth: 0.4, showSymbol: false,
      lineStyle: { color: '#ffcc00', width: 5, cap: 'round' }, z: 3, emphasis: { disabled: true } },

    obsSeries(1, 1, tempObs),
    smoothSeries(1, 1, tempSmoothA),
    smoothSeries(1, 1, tempSmoothB),
    trendSeries(1, 1, tempTrend),

    obsSeries(3, 3, salObs),
    smoothSeries(3, 3, salSmoothA),
    smoothSeries(3, 3, salSmoothB),
    trendSeries(3, 3, salTrend)
  ],
  graphic: [
    { type: 'text', x: 246, y: 279, scaleX: 1.07, style: { text: 'Subtropical\nmode water', fontFamily: FONT, fontSize: 34, lineHeight: 40, fill: '#ff2a00' } },
    { type: 'text', x: 14, y: 367, rotation: Math.PI / 2, style: { text: 'Depth (m)', fontFamily: FONT, fontSize: 17, fill: '#222', align: 'center', verticalAlign: 'middle' } },
    { type: 'text', x: 595, y: 184, rotation: Math.PI / 2, style: { text: '[ \u00b0 C]', fontFamily: FONT, fontSize: 24, fontWeight: 'bold', fill: '#000', align: 'center', verticalAlign: 'middle' } },
    { type: 'text', x: 593, y: 552, rotation: Math.PI / 2, style: { text: 'Salinity', fontFamily: FONT, fontSize: 24, fontWeight: 'bold', fill: '#000', align: 'center', verticalAlign: 'middle' } },
    { type: 'text', x: 1063, y: 725, style: { text: 'Year', fontFamily: FONT, fontSize: 24, fontWeight: 'bold', fill: '#000', align: 'center', verticalAlign: 'middle' } }
  ]
});
</script>
</body>
</html>
